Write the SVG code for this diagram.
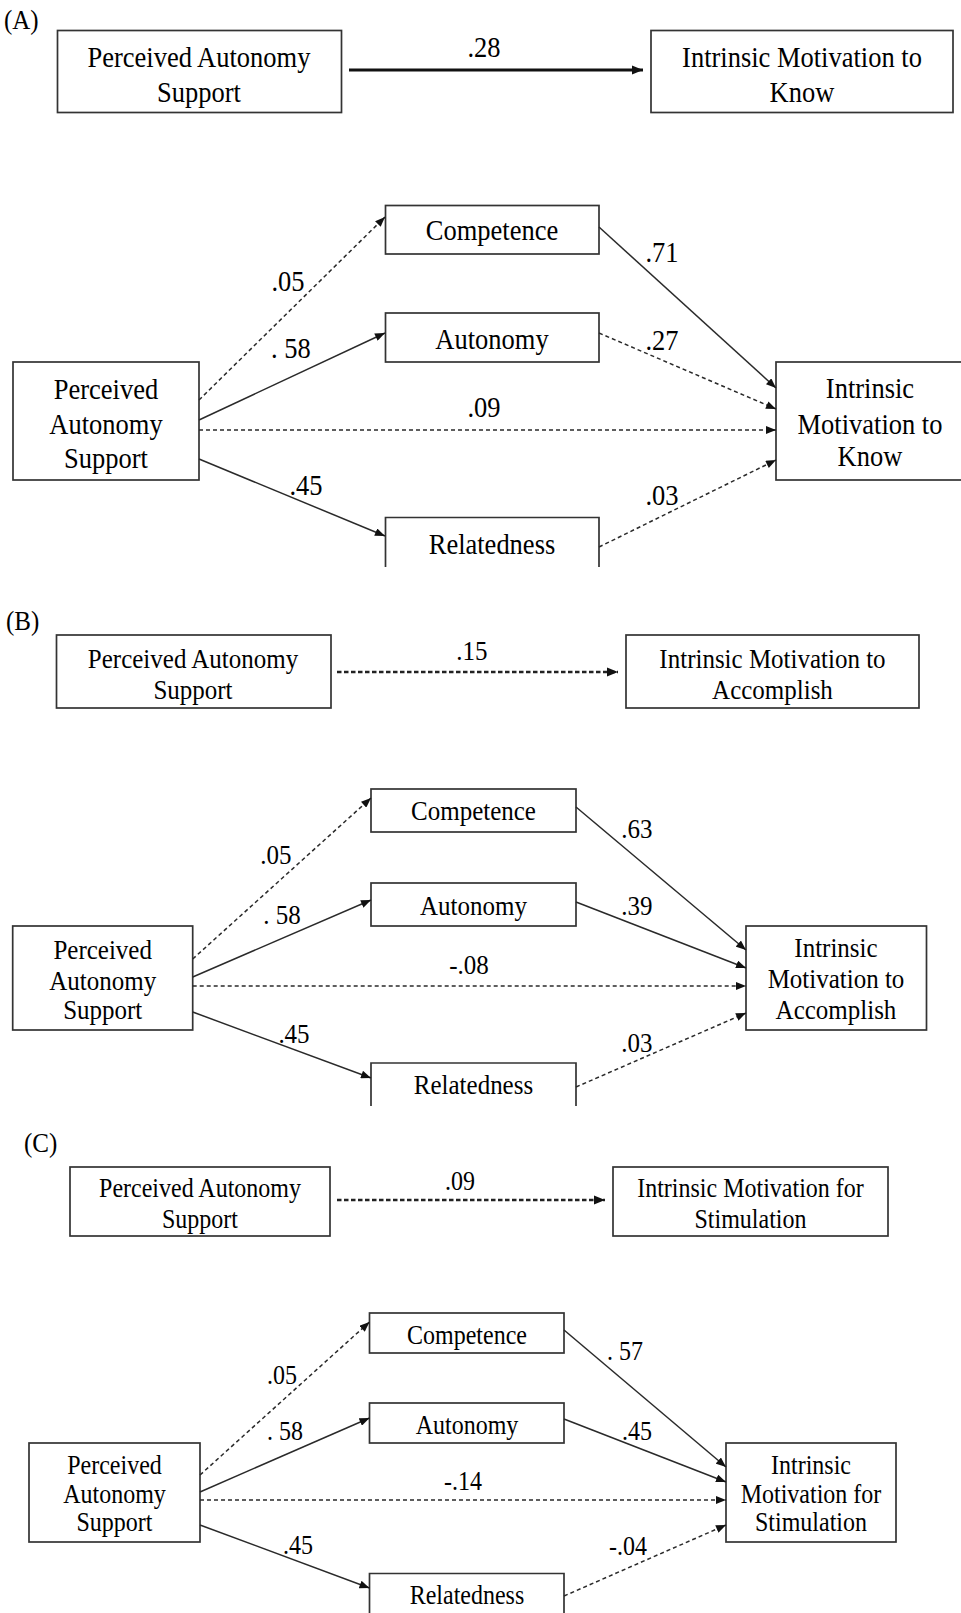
<svg xmlns="http://www.w3.org/2000/svg" width="961" height="1613" viewBox="0 0 961 1613">
<style>
.box{fill:#fff;stroke:#333;stroke-width:1.7}
.obox{fill:none;stroke:#333;stroke-width:1.7}
text{font-family:"Liberation Serif","Times New Roman",serif;fill:#000;text-anchor:middle;transform-box:fill-box;transform-origin:50% 50%;transform:scaleY(1.1)}
.fa{font-size:26.5px}
.fb{font-size:25px}
.fc{font-size:24px}
.lab{font-size:25px;text-anchor:start}
.s{stroke:#2a2a2a;stroke-width:1.5;fill:none}
.d{stroke:#2a2a2a;stroke-width:1.5;fill:none;stroke-dasharray:4 3}
.sb{stroke:#111;stroke-width:2.8;fill:none}
.db{stroke:#222;stroke-width:2.3;fill:none;stroke-dasharray:4.5 2.5}
</style>
<defs>
<marker id="ah" viewBox="0 0 10 8" refX="10" refY="4" markerWidth="10.5" markerHeight="8" markerUnits="userSpaceOnUse" orient="auto">
<path d="M0 0 L10 4 L0 8 Z" fill="#111"/>
</marker>
<marker id="ahb" viewBox="0 0 10 8" refX="10" refY="4" markerWidth="11" markerHeight="10" markerUnits="userSpaceOnUse" orient="auto">
<path d="M0 0 L10 4 L0 8 Z" fill="#111"/>
</marker>
</defs>

<!-- Panel labels -->
<text class="lab" x="4" y="28">(A)</text>
<text class="lab" x="6" y="629">(B)</text>
<text class="lab" x="24" y="1151">(C)</text>

<!-- ===== Panel A ===== -->
<g id="A_top_pas"><rect class="box" x="57.5" y="30.5" width="284" height="82"/>
<text class="fa" x="199" y="66">Perceived Autonomy</text><text class="fa" x="199" y="101">Support</text></g>
<g id="A_top_imk"><rect class="box" x="651" y="30.5" width="302" height="82"/>
<text class="fa" x="802" y="66">Intrinsic Motivation to</text><text class="fa" x="802" y="101">Know</text></g>

<g id="A_comp"><rect class="box" x="385.5" y="205.5" width="213.5" height="48.5"/><text class="fa" x="492" y="239">Competence</text></g>
<g id="A_aut"><rect class="box" x="385.5" y="313" width="213.5" height="49"/><text class="fa" x="492" y="348">Autonomy</text></g>
<g id="A_rel"><path class="obox" d="M385.5 567 V517.5 H599 V567"/><text class="fa" x="492" y="553">Relatedness</text></g>
<g id="A_pas"><rect class="box" x="13" y="362" width="186" height="118"/>
<text class="fa" x="106" y="398">Perceived</text><text class="fa" x="106" y="433">Autonomy</text><text class="fa" x="106" y="467">Support</text></g>
<g id="A_imk"><rect class="box" x="776" y="362" width="190" height="118"/>
<text class="fa" x="870" y="397">Intrinsic</text><text class="fa" x="870" y="433">Motivation to</text><text class="fa" x="870" y="465">Know</text></g>

<!-- ===== Panel B ===== -->
<g id="B_top_pas"><rect class="box" x="56.5" y="635" width="274.5" height="73"/>
<text class="fb" x="193" y="667">Perceived Autonomy</text><text class="fb" x="193" y="698">Support</text></g>
<g id="B_top_ima"><rect class="box" x="626" y="635" width="293" height="73"/>
<text class="fb" x="772.5" y="667">Intrinsic Motivation to</text><text class="fb" x="772.5" y="698">Accomplish</text></g>

<g id="B_comp"><rect class="box" x="371" y="789" width="205" height="43"/><text class="fb" x="473.5" y="819">Competence</text></g>
<g id="B_aut"><rect class="box" x="371" y="883" width="205" height="43"/><text class="fb" x="473.5" y="914">Autonomy</text></g>
<g id="B_rel"><path class="obox" d="M371 1106 V1063 H576 V1106"/><text class="fb" x="473.5" y="1093">Relatedness</text></g>
<g id="B_pas"><rect class="box" x="12.7" y="926" width="180" height="104"/>
<text class="fb" x="102.7" y="958">Perceived</text><text class="fb" x="102.7" y="989">Autonomy</text><text class="fb" x="102.7" y="1018">Support</text></g>
<g id="B_ima"><rect class="box" x="746" y="926" width="180.5" height="104"/>
<text class="fb" x="836" y="956">Intrinsic</text><text class="fb" x="836" y="987">Motivation to</text><text class="fb" x="836" y="1018">Accomplish</text></g>

<!-- ===== Panel C ===== -->
<g id="C_top_pas"><rect class="box" x="70" y="1167" width="260" height="69"/>
<text class="fc" x="200" y="1196">Perceived Autonomy</text><text class="fc" x="200" y="1227">Support</text></g>
<g id="C_top_ims"><rect class="box" x="613" y="1167" width="275" height="69"/>
<text class="fc" x="750.5" y="1196">Intrinsic Motivation for</text><text class="fc" x="750.5" y="1227">Stimulation</text></g>

<g id="C_comp"><rect class="box" x="369.5" y="1313" width="194.5" height="40"/><text class="fc" x="467" y="1343">Competence</text></g>
<g id="C_aut"><rect class="box" x="369.5" y="1403" width="194.5" height="40"/><text class="fc" x="467" y="1433">Autonomy</text></g>
<g id="C_rel"><path class="obox" d="M369.5 1616 V1573.5 H564 V1616"/><text class="fc" x="467" y="1603">Relatedness</text></g>
<g id="C_pas"><rect class="box" x="29" y="1443" width="171" height="99"/>
<text class="fc" x="114.5" y="1473">Perceived</text><text class="fc" x="114.5" y="1502">Autonomy</text><text class="fc" x="114.5" y="1530">Support</text></g>
<g id="C_ims"><rect class="box" x="726" y="1443" width="170" height="99"/>
<text class="fc" x="811" y="1473">Intrinsic</text><text class="fc" x="811" y="1502">Motivation for</text><text class="fc" x="811" y="1530">Stimulation</text></g>

<!-- ===== Connectors ===== -->
<g id="connectors">
<!-- A -->
<path class="sb" d="M349 70 L643 70" marker-end="url(#ahb)"/>
<path class="d" d="M199 400 L385 217" marker-end="url(#ah)"/>
<path class="s" d="M199 420 L385 333" marker-end="url(#ah)"/>
<path class="d" d="M199 430 L776 430" marker-end="url(#ah)"/>
<path class="s" d="M199 459 L385 536" marker-end="url(#ah)"/>
<path class="s" d="M599 227 L776 388" marker-end="url(#ah)"/>
<path class="d" d="M599 333 L776 409" marker-end="url(#ah)"/>
<path class="d" d="M599 547 L776 460" marker-end="url(#ah)"/>
<!-- B -->
<path class="db" d="M337 672 L618 672" marker-end="url(#ahb)"/>
<path class="d" d="M192.7 959 L371 798" marker-end="url(#ah)"/>
<path class="s" d="M192.7 977 L371 900" marker-end="url(#ah)"/>
<path class="d" d="M192.7 986 L746 986" marker-end="url(#ah)"/>
<path class="s" d="M192.7 1012 L371 1078" marker-end="url(#ah)"/>
<path class="s" d="M576 807 L746 950" marker-end="url(#ah)"/>
<path class="s" d="M576 902 L746 968" marker-end="url(#ah)"/>
<path class="d" d="M576 1087 L746 1013" marker-end="url(#ah)"/>
<!-- C -->
<path class="db" d="M337 1200 L605 1200" marker-end="url(#ahb)"/>
<path class="d" d="M200 1475 L369.5 1322" marker-end="url(#ah)"/>
<path class="s" d="M200 1492 L369.5 1418" marker-end="url(#ah)"/>
<path class="d" d="M200 1500 L726 1500" marker-end="url(#ah)"/>
<path class="s" d="M200 1525 L369.5 1588" marker-end="url(#ah)"/>
<path class="s" d="M564 1330 L726 1467" marker-end="url(#ah)"/>
<path class="s" d="M564 1419 L726 1482" marker-end="url(#ah)"/>
<path class="d" d="M564 1596 L726 1525" marker-end="url(#ah)"/>
</g>

<!-- ===== Path coefficient labels ===== -->
<g id="labels">
<text class="fa" x="484" y="56">.28</text>
<text class="fa" x="288" y="290">.05</text>
<text class="fa" x="291" y="357">. 58</text>
<text class="fa" x="484" y="416">.09</text>
<text class="fa" x="306" y="494">.45</text>
<text class="fa" x="662" y="261">.71</text>
<text class="fa" x="662" y="349">.27</text>
<text class="fa" x="662" y="504">.03</text>

<text class="fb" x="472" y="659">.15</text>
<text class="fb" x="276" y="863">.05</text>
<text class="fb" x="282" y="923">. 58</text>
<text class="fb" x="469" y="973">-.08</text>
<text class="fb" x="294" y="1042">.45</text>
<text class="fb" x="637" y="837">.63</text>
<text class="fb" x="637" y="914">.39</text>
<text class="fb" x="637" y="1051">.03</text>

<text class="fc" x="460" y="1189">.09</text>
<text class="fc" x="282" y="1383">.05</text>
<text class="fc" x="285" y="1439">. 58</text>
<text class="fc" x="463" y="1489">-.14</text>
<text class="fc" x="298" y="1553">.45</text>
<text class="fc" x="625" y="1359">. 57</text>
<text class="fc" x="637" y="1439">.45</text>
<text class="fc" x="628" y="1554">-.04</text>
</g>
</svg>
